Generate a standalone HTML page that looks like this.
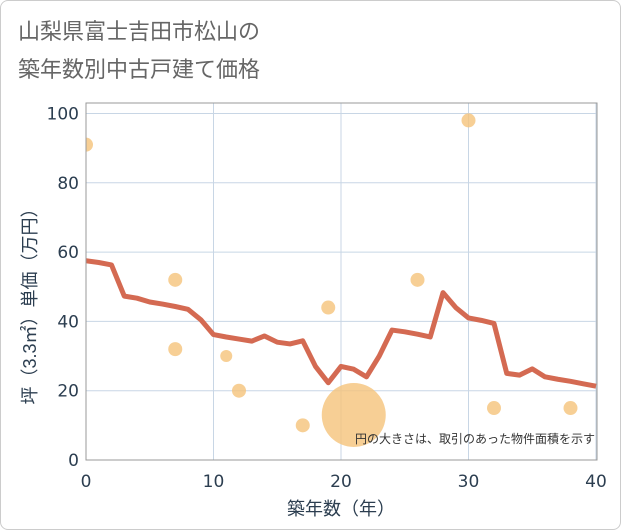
<!DOCTYPE html>
<html><head><meta charset="utf-8"><style>
body{margin:0;width:621px;height:530px;background:#fff;font-family:"Liberation Sans","Noto Sans CJK JP",sans-serif;}
#frame{position:absolute;left:0;top:0;width:619px;height:528px;border:1px solid #ccc;border-radius:8px;}
#title{position:absolute;left:18px;top:13px;font-size:22px;line-height:38px;color:#666;}
</style></head><body>
<div id="frame"></div>
<div id="title">山梨県富士吉田市松山の<br>築年数別中古戸建て価格</div>
<svg id="chart" width="621" height="530" style="position:absolute;left:0;top:0">
<defs><clipPath id="pc"><rect x="86" y="103" width="511" height="357"/></clipPath></defs>
<g id="grid"></g><g id="bubbles" clip-path="url(#pc)"></g><g id="line"></g><g id="axes"></g>
</svg>
<script>
const lineX=[0,1,2,3,4,5,6,7,8,9,10,11,12,13,14,15,16,17,18,19,20,21,22,23,24,25,26,27,28,29,30,31,32,33,34,35,36,37,38,39,40];
const lineY=[57.5,57,56.3,47.3,46.7,45.6,45,44.3,43.5,40.5,36.2,35.5,34.9,34.3,35.8,34,33.5,34.4,27,22.3,27,26.2,24,30,37.5,37,36.3,35.5,48.3,44,41,40.3,39.4,25,24.5,26.3,24,23.3,22.7,22,21.3];
const bubX=[0,7,7,11,12,17,19,21,26,30,32,38];
const bubY=[91,52,32,30,20,10,44,13,52,98,15,15];
const bubR=[7,7,7,6,7,7,7,32,7,7,7,7];
const xTicks=[0,10,20,30,40];
const yTicks=[0,20,40,60,80,100];
const NS='http://www.w3.org/2000/svg';
const sx=v=>86+v*(596-86)/40;
const sy=v=>460-v*3.465;
function mk(t,a,p){const e=document.createElementNS(NS,t);for(const k in a)e.setAttribute(k,a[k]);p.appendChild(e);return e;}
const G=document.getElementById('grid'),A=document.getElementById('axes');
const TF='"DejaVu Sans","Liberation Sans",sans-serif';
mk('rect',{x:86,y:103,width:511,height:357,fill:'#fff',stroke:'none'},G);
xTicks.forEach(v=>{const l=mk('line',{x1:sx(v),x2:sx(v),y1:103,y2:460,stroke:'#c8d6e5'},G);


const t=mk('text',{x:sx(v),y:487,'text-anchor':'middle','font-size':17,'font-family':TF,fill:'#2c3e50'},A);t.textContent=v;

});
yTicks.forEach(v=>{const l=mk('line',{x1:86,x2:597,y1:sy(v),y2:sy(v),stroke:'#c8d6e5'},G);


const t=mk('text',{x:79,y:sy(v)+6,'text-anchor':'end','font-size':17,'font-family':TF,fill:'#2c3e50'},A);t.textContent=v;

});
mk('rect',{x:86,y:103,width:511,height:357,fill:'none',stroke:'#999'},A);
const B=document.getElementById('bubbles');
bubX.forEach((x,i)=>{const c=mk('circle',{cx:sx(x),cy:sy(bubY[i]),r:bubR[i],fill:'#f5c37a','fill-opacity':0.8},B);

});
const p=mk('polyline',{points:lineX.map((x,i)=>sx(x)+','+sy(lineY[i])).join(' '),fill:'none',stroke:'#d46a52','stroke-width':5,'stroke-linejoin':'round'},document.getElementById('line'));


const xt=mk('text',{x:341,y:515,'text-anchor':'middle','font-size':18,fill:'#2c3e50'},A);xt.textContent='築年数（年）';


const yt=mk('text',{x:0,y:0,'text-anchor':'middle','font-size':18,fill:'#2c3e50',transform:'translate(36,302) rotate(-90)'},A);yt.textContent='坪（3.3㎡）単価（万円）';


const nt=mk('text',{x:595,y:443,'text-anchor':'end','font-size':12,fill:'#333'},A);nt.textContent='円の大きさは、取引のあった物件面積を示す';


</script>
</body></html>
